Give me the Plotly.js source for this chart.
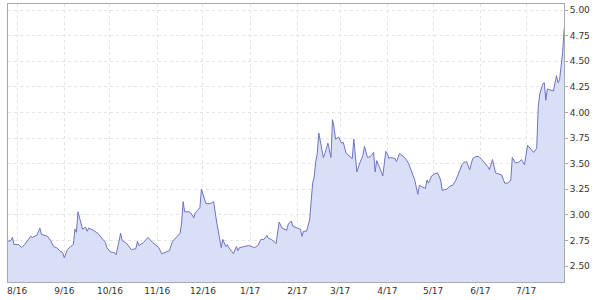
<!DOCTYPE html>
<html>
<head>
<meta charset="utf-8">
<script src="https://cdn.plot.ly/plotly-3.0.1.min.js"></script>
<style>html,body{margin:0;padding:0;background:#fff;}#chart{width:600px;height:300px;}</style>
</head>
<body>
<div id="chart"></div>
<script>
const dates = [
"2016-07-26","2016-07-28","2016-07-29","2016-07-30","2016-08-02","2016-08-04","2016-08-06","2016-08-08","2016-08-10","2016-08-11",
"2016-08-13","2016-08-14","2016-08-16","2016-08-17","2016-08-21","2016-08-23","2016-08-25","2016-08-27","2016-08-29","2016-08-31",
"2016-09-01","2016-09-03","2016-09-05","2016-09-07","2016-09-08","2016-09-09","2016-09-10","2016-09-12","2016-09-13","2016-09-15",
"2016-09-16","2016-09-17","2016-09-20","2016-09-23","2016-09-26","2016-09-28","2016-09-29","2016-10-01","2016-10-04","2016-10-05",
"2016-10-08","2016-10-09","2016-10-11","2016-10-12","2016-10-15","2016-10-18","2016-10-19","2016-10-20","2016-10-23","2016-10-26",
"2016-10-29","2016-10-31","2016-11-02","2016-11-04","2016-11-07","2016-11-09","2016-11-11","2016-11-15","2016-11-16","2016-11-17",
"2016-11-18","2016-11-19","2016-11-22","2016-11-23","2016-11-25","2016-11-26","2016-11-29","2016-11-30","2016-12-02","2016-12-03",
"2016-12-06","2016-12-08","2016-12-10","2016-12-11","2016-12-13","2016-12-14","2016-12-16","2016-12-17","2016-12-18","2016-12-20",
"2016-12-21","2016-12-23","2016-12-24","2016-12-25","2016-12-29","2016-12-31","2017-01-04","2017-01-06","2017-01-08","2017-01-10",
"2017-01-12","2017-01-13","2017-01-15","2017-01-18","2017-01-20","2017-01-22","2017-01-25","2017-01-26","2017-01-28","2017-01-29",
"2017-02-01","2017-02-03","2017-02-04","2017-02-05","2017-02-07","2017-02-09","2017-02-11","2017-02-12","2017-02-13","2017-02-14",
"2017-02-15","2017-02-17","2017-02-18","2017-02-19","2017-02-21","2017-02-23","2017-02-24","2017-02-25","2017-02-26","2017-02-27",
"2017-02-28","2017-03-02","2017-03-03","2017-03-05","2017-03-08","2017-03-09","2017-03-10","2017-03-12","2017-03-14","2017-03-16",
"2017-03-17","2017-03-19","2017-03-21","2017-03-23","2017-03-24","2017-03-25","2017-03-27","2017-03-29","2017-03-31","2017-04-01",
"2017-04-02","2017-04-03","2017-04-06","2017-04-07","2017-04-09","2017-04-11","2017-04-13","2017-04-15","2017-04-17","2017-04-19",
"2017-04-21","2017-04-22","2017-04-24","2017-04-26","2017-04-27","2017-04-28","2017-04-30","2017-05-02","2017-05-04","2017-05-06",
"2017-05-07","2017-05-10","2017-05-12","2017-05-14","2017-05-16","2017-05-18","2017-05-20","2017-05-21","2017-05-23","2017-05-25",
"2017-05-27","2017-05-29","2017-05-31","2017-06-02","2017-06-04","2017-06-06","2017-06-07","2017-06-09","2017-06-11","2017-06-13",
"2017-06-15","2017-06-17","2017-06-19","2017-06-21","2017-06-22","2017-06-24","2017-06-26","2017-06-28","2017-06-30","2017-07-02",
"2017-07-04","2017-07-06","2017-07-08","2017-07-09","2017-07-10","2017-07-12","2017-07-13","2017-07-14","2017-07-15","2017-07-18",
"2017-07-19","2017-07-21","2017-07-22","2017-07-23","2017-07-25","2017-07-26"
];
const prices = [
2.74,2.75,2.78,2.71,2.71,2.68,2.71,2.75,2.79,2.78,
2.79,2.80,2.87,2.81,2.79,2.75,2.69,2.68,2.65,2.63,
2.58,2.66,2.69,2.71,2.86,2.83,3.03,2.93,2.86,2.88,
2.84,2.87,2.85,2.82,2.77,2.73,2.68,2.64,2.63,2.61,
2.82,2.75,2.73,2.72,2.66,2.67,2.74,2.70,2.73,2.78,
2.73,2.70,2.68,2.62,2.64,2.65,2.74,2.80,2.82,2.92,
3.13,3.03,3.03,3.02,2.97,3.02,3.07,3.25,3.16,3.11,
3.11,3.13,2.93,2.85,2.68,2.76,2.69,2.71,2.68,2.64,
2.62,2.69,2.65,2.68,2.69,2.70,2.68,2.70,2.76,2.76,
2.80,2.77,2.76,2.72,2.93,2.87,2.85,2.91,2.94,2.89,
2.87,2.86,2.79,2.84,2.84,2.95,3.31,3.37,3.52,3.60,
3.80,3.61,3.56,3.60,3.70,3.56,3.93,3.86,3.74,3.75,
3.76,3.70,3.71,3.60,3.56,3.55,3.74,3.42,3.51,3.58,
3.67,3.56,3.57,3.61,3.42,3.53,3.46,3.38,3.62,3.60,
3.55,3.56,3.55,3.52,3.60,3.57,3.55,3.50,3.42,3.34,
3.20,3.29,3.27,3.26,3.34,3.31,3.38,3.40,3.41,3.34,
3.24,3.25,3.28,3.29,3.34,3.42,3.49,3.51,3.52,3.44,
3.55,3.57,3.57,3.54,3.51,3.47,3.44,3.54,3.41,3.40,
3.39,3.31,3.31,3.34,3.56,3.51,3.51,3.54,3.49,3.68,
3.65,3.61,3.65,4.05,4.18,4.28,4.29,4.12,4.23,4.22,
4.21,4.36,4.29,4.32,4.58,4.82
];
const yTicks = [2.50,2.75,3.00,3.25,3.50,3.75,4.00,4.25,4.50,4.75,5.00];
const yTickLabels = ["2.50","2.75","3.00","3.25","3.50","3.75","4.00","4.25","4.50","4.75","5.00"];

const trace = {
  x: dates, y: prices, type: 'scatter', mode: 'lines',
  line: {color: '#6f74c2', width: 1},
  fill: 'tozeroy', fillcolor: '#dadff8',
  hoverinfo: 'x+y'
};
const font = {family: 'DejaVu Sans, Verdana, sans-serif', size: 9, color: '#333'};
const layout = {
  width: 600, height: 300,
  margin: {l: 8, r: 36, t: 4, b: 18},
  paper_bgcolor: '#fff', plot_bgcolor: '#fff',
  showlegend: false,
  font: font,
  xaxis: {
    type: 'date', range: ['2016-07-26 02:00', '2017-07-25 22:00'],
    tick0: '2016-08-01', dtick: 'M1', tickformat: '%-m/%y',
    showgrid: true, gridcolor: '#e4e4e4', griddash: '3px,3px', gridwidth: 1,
    showline: true, linecolor: '#aaa', linewidth: 1, mirror: true,
    ticks: '', zeroline: false, tickfont: font
  },
  yaxis: {
    side: 'right', range: [2.344, 5.06],
    tickvals: yTicks, ticktext: yTickLabels,
    showgrid: true, gridcolor: '#e4e4e4', griddash: '3px,3px', gridwidth: 1,
    showline: true, linecolor: '#aaa', linewidth: 1, mirror: true,
    ticks: 'outside', ticklen: 3, tickcolor: '#aaa', zeroline: false, tickfont: font
  }
};
Plotly.newPlot('chart', [trace], layout, {displayModeBar: false, staticPlot: true});
</script>
</body>
</html>
